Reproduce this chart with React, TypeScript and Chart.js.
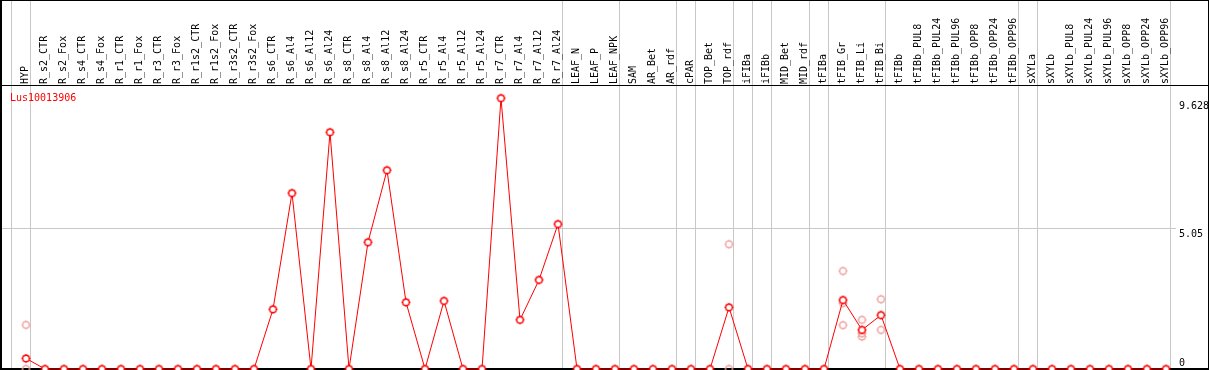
import React, { useEffect, useRef } from "react";
import { Chart, registerables } from "chart.js";

Chart.register(...registerables);

const geneLabel = "Lus10013906";

const categories = [
  "HYP",
  "R_s2_CTR", "R_s2_Fox", "R_s4_CTR", "R_s4_Fox", "R_r1_CTR", "R_r1_Fox",
  "R_r3_CTR", "R_r3_Fox", "R_r1s2_CTR", "R_r1s2_Fox", "R_r3s2_CTR", "R_r3s2_Fox",
  "R_s6_CTR", "R_s6_Al4", "R_s6_Al12", "R_s6_Al24",
  "R_s8_CTR", "R_s8_Al4", "R_s8_Al12", "R_s8_Al24",
  "R_r5_CTR", "R_r5_Al4", "R_r5_Al12", "R_r5_Al24",
  "R_r7_CTR", "R_r7_Al4", "R_r7_Al12", "R_r7_Al24",
  "LEAF_N", "LEAF_P", "LEAF_NPK",
  "SAM", "AR_Bet", "AR_rdf",
  "cPAR",
  "TOP_Bet", "TOP_rdf",
  "iFIBa", "iFIBb",
  "MID_Bet", "MID_rdf",
  "tFIBa", "tFIB_Gr", "tFIB_Li", "tFIB_Bi",
  "tFIBb", "tFIBb_PUL8", "tFIBb_PUL24", "tFIBb_PUL96", "tFIBb_OPP8", "tFIBb_OPP24", "tFIBb_OPP96",
  "sXYLa",
  "sXYLb", "sXYLb_PUL8", "sXYLb_PUL24", "sXYLb_PUL96", "sXYLb_OPP8", "sXYLb_OPP24", "sXYLb_OPP96",
];

// mean expression per sample
const meanValues = [
  0.38,
  0, 0, 0, 0, 0, 0, 0, 0, 0, 0, 0, 0,
  2.14, 6.3, 0, 8.48,
  0, 4.54, 7.12, 2.39,
  0, 2.44, 0, 0,
  9.7, 1.76, 3.19, 5.19,
  0, 0, 0,
  0, 0, 0,
  0,
  0, 2.21,
  0, 0,
  0, 0,
  0, 2.47, 1.4, 1.93,
  0, 0, 0, 0, 0, 0, 0,
  0,
  0, 0, 0, 0, 0, 0, 0,
];

// individual replicates (category index, value)
const replicateIndex = [0, 0, 37, 37, 43, 43, 43, 44, 44, 44, 45, 45];
const replicateValue = [1.58, 0, 4.47, 0, 3.51, 2.36, 1.57, 1.76, 1.28, 1.16, 2.5, 1.4];

// last category index of each sample group (gridline drawn after it)
const groupBoundaries = [-1, 0, 28, 31, 34, 35, 37, 38, 39, 41, 42, 45, 52, 53, 60];

const yTickValues = [0, 5.05, 9.628];
const yTickLabels = ["0", "5.05", "9.628"];
const yGridValues = [5.05];

const FONT = '10px "DejaVu Sans Mono"';

function makeMarker(stroke: string, fill: string | null, lw: number) {
  const c = document.createElement("canvas");
  c.width = 11;
  c.height = 11;
  const g = c.getContext("2d")!;
  g.beginPath();
  g.arc(5.5, 5.5, 3.3, 0, Math.PI * 2);
  if (fill) {
    g.fillStyle = fill;
    g.fill();
  }
  g.strokeStyle = stroke;
  g.lineWidth = lw;
  g.stroke();
  g.fillStyle = stroke;
  g.fillRect(5, 1, 1, 1);
  g.fillRect(5, 9, 1, 1);
  g.fillRect(1, 5, 1, 1);
  g.fillRect(9, 5, 1, 1);
  return c;
}

export default function App() {
  const ref = useRef<HTMLCanvasElement | null>(null);

  useEffect(() => {
    const canvas = ref.current!;
    const mainMarker = makeMarker("#ff0000", "#ffffff", 1.4);
    const repMarker = makeMarker("#f09a9a", null, 1.2);

    const decor = {
      id: "decor",
      beforeDraw(chart: any) {
        const ctx = chart.ctx;
        ctx.save();
        ctx.fillStyle = "#ffffff";
        ctx.fillRect(0, 0, chart.width, chart.height);
        ctx.restore();
      },
      beforeDatasetsDraw(chart: any) {
        const ctx = chart.ctx;
        const xs = chart.scales.x;
        const ys = chart.scales.y;
        const W = chart.width;
        const H = chart.height;
        const area = chart.chartArea;
        ctx.save();
        // gray gridlines
        ctx.strokeStyle = "#c8c8c8";
        ctx.lineWidth = 1;
        groupBoundaries.forEach((b) => {
          const x = Math.floor(xs.getPixelForValue(b + 0.25)) + 0.5;
          ctx.beginPath();
          ctx.moveTo(x, 0);
          ctx.lineTo(x, area.bottom);
          ctx.stroke();
        });
        yGridValues.forEach((v) => {
          const y = Math.round(ys.getPixelForValue(v)) + 0.5;
          ctx.beginPath();
          ctx.moveTo(0, y);
          ctx.lineTo(area.right + 5, y);
          ctx.stroke();
        });
        // black frame
        ctx.fillStyle = "#000000";
        ctx.fillRect(0, 0, W, 1);
        ctx.fillRect(0, area.top - 1, W, 1);
        ctx.fillRect(0, 0, 2, H);
        ctx.fillRect(W - 1, 0, 1, H);
        ctx.fillRect(0, H - 2, W, 2);

        // header labels
        ctx.font = FONT;
        ctx.fillStyle = "#000000";
        ctx.textAlign = "left";
        ctx.textBaseline = "alphabetic";
        categories.forEach((lab, i) => {
          const x = Math.round(xs.getPixelForValue(i)) + 2;
          ctx.save();
          ctx.translate(x, area.top - 2);
          ctx.rotate(-Math.PI / 2);
          ctx.fillText(lab, 0, 0);
          ctx.restore();
        });

        // y labels
        yTickValues.forEach((v, k) => {
          const y = ys.getPixelForValue(v);
          if (v === 0) {
            ctx.textBaseline = "bottom";
            ctx.fillText(yTickLabels[k], area.right + 8, y - 1);
          } else {
            ctx.textBaseline = "top";
            ctx.fillText(yTickLabels[k], area.right + 8, y + 1);
          }
        });

        // gene label
        ctx.fillStyle = "#ff0000";
        ctx.textBaseline = "alphabetic";
        ctx.fillText(geneLabel, 10, area.top + 15);
        ctx.restore();
      },
    };

    const chart = new Chart(canvas, {
      type: "line",
      data: {
        datasets: [
          {
            label: "mean",
            data: meanValues.map((v, i) => ({ x: i, y: v })),
            borderColor: "#ff0000",
            borderWidth: 1,
            pointStyle: mainMarker as any,
            pointRadius: 4,
            clip: false as any,
            order: 0,
            tension: 0,
          },
          {
            label: "replicates",
            data: replicateIndex.map((x, k) => ({ x, y: replicateValue[k] })),
            showLine: false,
            borderColor: "#f09a9a",
            pointStyle: repMarker as any,
            pointRadius: 4,
            clip: false as any,
            order: 1,
          },
        ],
      },
      options: {
        responsive: false,
        animation: false,
        devicePixelRatio: 1,
        events: [],
        layout: { autoPadding: false, padding: { left: 1, right: 38, top: 86, bottom: 1 } },
        plugins: { legend: { display: false }, tooltip: { enabled: false } },
        scales: {
          x: { type: "linear", min: -25 / 19, max: 1145 / 19, display: false },
          y: { type: "linear", min: 0, max: 283 / 27.92, display: false },
        },
      },
      plugins: [decor],
    });
    return () => chart.destroy();
  }, []);

  return (
    <div style={{ position: "fixed", left: 0, top: 0, width: 1209, height: 370 }}>
      <canvas ref={ref} width={1209} height={370} style={{ display: "block" }} />
    </div>
  );
}
